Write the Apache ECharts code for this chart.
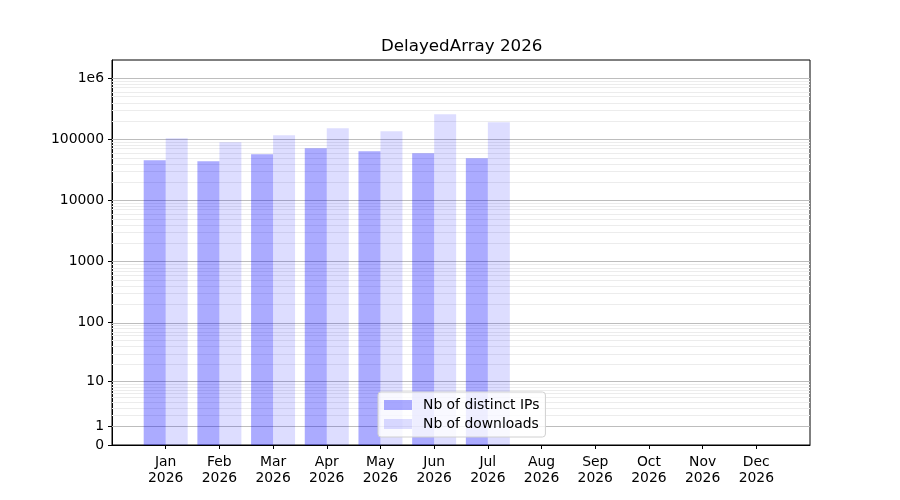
<!DOCTYPE html>
<html>
<head>
<meta charset="utf-8">
<script src="https://cdn.jsdelivr.net/npm/echarts@6/dist/echarts.min.js"></script>
<style>
  html, body { margin: 0; padding: 0; background: #fff; }
  #main { width: 900px; height: 500px; }
</style>
</head>
<body>
<div id="main"></div>
<script>
var months = ['Jan', 'Feb', 'Mar', 'Apr', 'May', 'Jun', 'Jul', 'Aug', 'Sep', 'Oct', 'Nov', 'Dec'];
var year = '2026';
var distinctIPs = [45600, 43900, 57200, 71700, 64000, 59400, 49200, 0, 0, 0, 0, 0];
var downloads = [104400, 89800, 117000, 152000, 136000, 258000, 190700, 0, 0, 0, 0, 0];
var tickValues = [0, 1, 10, 100, 1000, 10000, 100000, 1000000];
var tickLabels = ['0', '1', '10', '100', '1000', '10000', '100000', '1e6'];

// axis shows log10(1 + v)
function tf(v) { return Math.log10(1 + v); }

var tickPos = tickValues.map(tf);

var gridLines = [];
tickValues.slice(1).forEach(function (v) {
    gridLines.push({ yAxis: tf(v), lineStyle: { color: '#bdbdbd', width: 1, type: 'solid' } });
});
for (var n = 0; n <= 5; n++) {
    for (var k = 2; k <= 9; k++) {
        gridLines.push({ yAxis: tf(k * Math.pow(10, n)), lineStyle: { color: '#ececec', width: 1, type: 'solid' } });
    }
}

var cats = [''].concat(months.map(function (m) { return m + '\n' + year; })).concat(['']);
function pad(arr) { return [null].concat(arr.map(tf)).concat([null]); }

var myChart = echarts.init(document.getElementById('main'));
var font = 'DejaVu Sans';
var fs = 13.9;
var option = {
    animation: false,
    textStyle: { fontFamily: font },
    title: {
        text: 'DelayedArray ' + year,
        left: 381,
        top: 38,
        padding: 0,
        textStyle: { fontFamily: font, fontSize: 16.7, fontWeight: 'normal', color: '#000' }
    },
    legend: {
        orient: 'vertical',
        left: 378,
        top: 392,
        padding: [6, 6, 6, 6],
        itemWidth: 28,
        itemHeight: 10,
        itemGap: 5,
        icon: 'rect',
        backgroundColor: 'rgba(255,255,255,0.8)',
        borderColor: '#d0d0d0',
        borderWidth: 1,
        borderRadius: 3,
        textStyle: { fontFamily: font, fontSize: fs, color: '#000', padding: [0, 0, 0, 6] },
        data: ['Nb of distinct IPs', 'Nb of downloads']
    },
    grid: {
        left: 112, right: 90, top: 60, bottom: 55,
        show: true, borderColor: '#000', borderWidth: 1
    },
    xAxis: {
        type: 'category',
        boundaryGap: false,
        data: cats,
        axisLine: { lineStyle: { color: '#000', width: 1 } },
        axisTick: {
            length: 4,
            lineStyle: { color: '#000' },
            interval: function (i) { return i > 0 && i < cats.length - 1; }
        },
        axisLabel: {
            interval: 0,
            margin: 9,
            fontFamily: font,
            fontSize: fs,
            lineHeight: 16,
            color: '#000'
        },
        splitLine: { show: false }
    },
    yAxis: {
        type: 'value',
        min: 0,
        max: 6.3,
        axisLine: { show: true, lineStyle: { color: '#000', width: 1 } },
        axisTick: { show: true, length: 4, customValues: tickPos, lineStyle: { color: '#000' } },
        axisLabel: {
            customValues: tickPos,
            margin: 8,
            fontFamily: font,
            fontSize: fs,
            color: '#000',
            formatter: function (v) {
                var best = 0;
                for (var i = 0; i < tickPos.length; i++) {
                    if (Math.abs(tickPos[i] - v) < Math.abs(tickPos[best] - v)) best = i;
                }
                return tickLabels[best];
            }
        },
        splitLine: { show: false }
    },
    series: [
        {
            name: 'grid',
            type: 'line',
            z: 1,
            data: [],
            markLine: {
                silent: true,
                z: 1,
                symbol: ['none', 'none'],
                label: { show: false },
                emphasis: { disabled: true },
                data: gridLines
            }
        },
        {
            name: 'Nb of distinct IPs',
            type: 'bar',
            z: 2,
            barWidth: 22,
            barGap: '0%',
            itemStyle: { color: 'rgba(0,0,255,0.33)' },
            data: pad(distinctIPs)
        },
        {
            name: 'Nb of downloads',
            type: 'bar',
            z: 2,
            barWidth: 22,
            barGap: '0%',
            itemStyle: { color: 'rgba(0,0,255,0.135)' },
            data: pad(downloads)
        }
    ]
};
myChart.setOption(option);
</script>
</body>
</html>
